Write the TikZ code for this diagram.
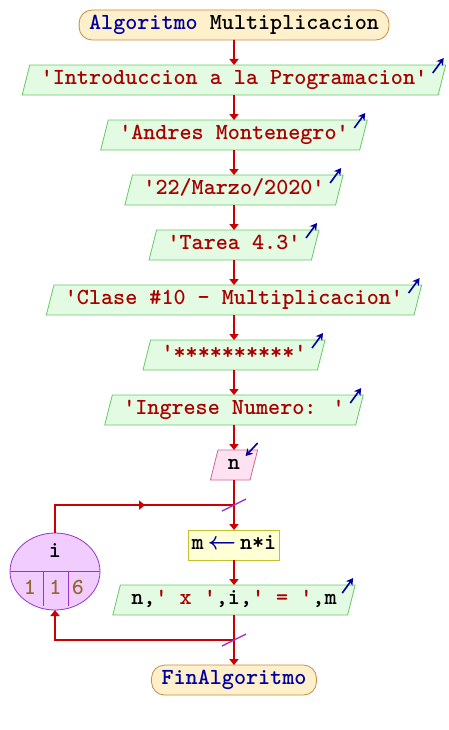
\documentclass[tikz,border=0pt]{standalone}
\usepackage{amsmath}
\usepackage{fontspec}
\usetikzlibrary{positioning, arrows.meta, calc, shapes.geometric, decorations.markings}
\definecolor{flujo}{HTML}{CC0000}
\definecolor{cadena}{HTML}{A80000}
\definecolor{azul}{HTML}{0000A0}
\definecolor{verdef}{HTML}{E2FBE2}
\definecolor{verdeb}{HTML}{66C866}
\definecolor{iniciof}{HTML}{FFF0CC}
\definecolor{iniciob}{HTML}{C88A3C}
\definecolor{rosaf}{HTML}{FFE2F2}
\definecolor{rosab}{HTML}{CC6699}
\definecolor{asigf}{HTML}{FFFFD6}
\definecolor{asigb}{HTML}{C0C030}
\definecolor{ciclof}{HTML}{F0CCFF}
\definecolor{ciclob}{HTML}{9933CC}
\definecolor{numero}{HTML}{996633}

\begin{document}
\begin{tikzpicture}[
  x=1pt, y=-1pt,
  node distance=25pt,
  every node/.style={font=\ttfamily\bfseries\fontsize{23}{25}\selectfont,
                     text height=13pt, text depth=4pt, outer sep=0pt},
  terminal/.style={draw=iniciob, fill=iniciof, line width=0.8pt, rounded corners=13pt,
                   minimum height=30pt, inner ysep=0pt, inner xsep=10pt},
  salida/.style={trapezium, trapezium left angle=66, trapezium right angle=114,
                 trapezium stretches body, draw=verdeb, fill=verdef, line width=0.8pt,
                 minimum height=30pt, inner ysep=0pt, inner xsep=11pt, text=cadena},
  entrada/.style={salida, draw=rosab, fill=rosaf, text=black, inner xsep=10pt},
  asigna/.style={draw=asigb, fill=asigf, line width=0.8pt, minimum height=30pt,
                 inner ysep=0pt, inner xsep=3pt},
  flecha/.style={-{Triangle[length=6pt,width=9pt]}, flujo, line width=1.6pt},
  linea/.style={flujo, line width=1.6pt},
  hacia/.style={-{Stealth[length=7pt,width=8pt]}, azul, line width=1.6pt},
  corte/.style={ciclob, line width=1.4pt},
]
  \useasboundingbox (0,0) rectangle (448,730);

  \node[terminal] (inicio) at (234,25) {\textcolor{azul}{Algoritmo} Multiplicacion};
  \node[salida, below=of inicio] (t1) {'Introduccion a la Programacion'};
  \node[salida, below=of t1] (t2) {'Andres Montenegro'};
  \node[salida, below=of t2] (t3) {'22/Marzo/2020'};
  \node[salida, below=of t3] (t4) {'Tarea 4.3'};
  \node[salida, below=of t4] (t5) {'Clase \#10 - Multiplicacion'};
  \node[salida, below=of t5] (t6) {'**********'};
  \node[salida, below=of t6] (t7) {'Ingrese Numero: '};
  \node[entrada, below=of t7] (leer) {n};
  \node[asigna, below=50pt of leer] (asig)
    {m\,\textcolor{azul}{$\boldsymbol{\leftarrow}$}\,n*i};
  \node[salida, below=of asig, text=black] (out)
    {n,\textcolor{cadena}{' x '},i,\textcolor{cadena}{' = '},m};
  \node[terminal, below=50pt of out] (fin) {\textcolor{azul}{FinAlgoritmo}};

  % ciclo para
  \node[ellipse, draw=ciclob, fill=ciclof, line width=0.8pt, inner sep=0pt,
        minimum width=90pt, minimum height=77pt] (ciclo) at (55,571.5) {};
  \draw[ciclob, line width=0.8pt] (ciclo.west) -- (ciclo.east);
  \draw[ciclob, line width=0.8pt] ($(ciclo.center)+(-12,0)$) -- ($(ciclo.center)+(-12,34)$);
  \draw[ciclob, line width=0.8pt] ($(ciclo.center)+(13,0)$) -- ($(ciclo.center)+(13,34)$);
  \node (var) at ($(ciclo.center)+(0,-19)$) {i};
  \node[text=numero] (ini) at ($(ciclo.center)+(-25,18)$) {1};
  \node[text=numero] (paso) at ($(ciclo.center)+(0.5,18)$) {1};
  \node[text=numero] (tope) at ($(ciclo.center)+(23,18)$) {6};

  \coordinate (j1) at ($(leer.south)!0.5!(asig.north)$);
  \coordinate (j2) at ($(out.south)!0.5!(fin.north)$);

  \draw[flecha] (inicio) -- (t1);
  \draw[flecha] (t1) -- (t2);
  \draw[flecha] (t2) -- (t3);
  \draw[flecha] (t3) -- (t4);
  \draw[flecha] (t4) -- (t5);
  \draw[flecha] (t5) -- (t6);
  \draw[flecha] (t6) -- (t7);
  \draw[flecha] (t7) -- (leer);
  \draw[flecha] (leer) -- (asig);
  \draw[flecha] (asig) -- (out);
  \draw[flecha] (out) -- (fin);
  \draw[linea, postaction={decorate}, decoration={markings,
        mark=at position 0.57 with {\arrow{Triangle[length=6pt,width=9pt]}}}]
    (ciclo.north) |- (j1);
  \draw[flecha] (j2) -| (ciclo.south);
  \draw[corte] ($(j1)+(-12,6)$) -- ($(j1)+(12,-6)$);
  \draw[corte] ($(j2)+(-12,6)$) -- ($(j2)+(12,-6)$);

  \foreach \p in {t1,t2,t3,t4,t5,t6,t7,out}
    \draw[hacia] ($(\p.top right corner)+(-13,8)$) -- ++(11,-15);
  \draw[hacia] ($(leer.top right corner)+(0,-7)$) -- ++(-12,13);
\end{tikzpicture}
\end{document}
